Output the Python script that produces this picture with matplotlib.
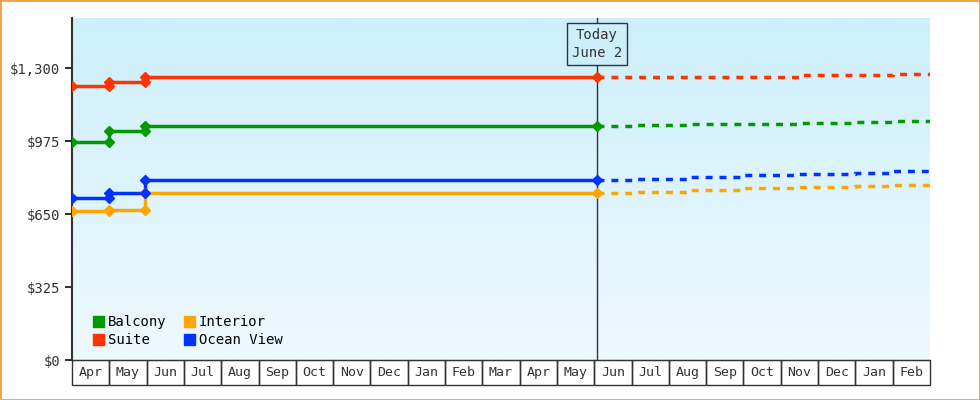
import numpy as np
import matplotlib.pyplot as plt
from matplotlib.patches import Rectangle, Patch

months = ["Apr", "May", "Jun", "Jul", "Aug", "Sep", "Oct", "Nov", "Dec", "Jan", "Feb",
          "Mar", "Apr", "May", "Jun", "Jul", "Aug", "Sep", "Oct", "Nov", "Dec", "Jan", "Feb"]
today_x = 14.07

# historical change points (x in months since first Apr)
hist_x = [0.0, 1.0, 1.95]
suite_hist = [1220, 1238, 1260]
balcony_hist = [970, 1020, 1042]
ocean_hist = [721, 743, 801]
interior_hist = [663, 668, 743]

# forecast (steps)
fc_x = [today_x, 15.0, 16.5, 18.0, 19.5, 21.0, 22.0, 23.0]
suite_fc = [1260, 1260, 1262, 1262, 1267, 1267, 1273, 1273]
balcony_fc = [1042, 1047, 1049, 1052, 1055, 1060, 1064, 1064]
ocean_fc = [801, 805, 815, 822, 828, 833, 841, 841]
interior_fc = [743, 746, 757, 764, 770, 773, 779, 779]

series = [("Balcony", "#009900", balcony_hist, balcony_fc),
          ("Suite", "#ff3300", suite_hist, suite_fc),
          ("Interior", "#ffa500", interior_hist, interior_fc),
          ("Ocean View", "#0033ff", ocean_hist, ocean_fc)]

plt.rcParams['font.family'] = ['DejaVu Sans Mono']
fig = plt.figure(figsize=(9.8, 4.0), dpi=100)
fig.patches.append(Rectangle((0, 0), 1, 1, transform=fig.transFigure, fill=False,
                             edgecolor="#f0a050", lw=2))
ax = fig.add_axes([72 / 980, 40 / 400, 858 / 980, 342 / 400])
ax.set_xlim(0, 23)
ax.set_ylim(0, 1523)

grad = np.linspace(0, 1, 256).reshape(-1, 1)
ax.imshow(grad, extent=[0, 23, 0, 1523], aspect="auto", origin="lower",
          cmap=plt.matplotlib.colors.LinearSegmentedColormap.from_list("g", ["#eef9fe", "#cdeffc"]),
          zorder=0)

for name, c, h, f in series:
    xs, ys = [], []
    for i, (x, y) in enumerate(zip(hist_x, h)):
        if i > 0:
            xs.append(x); ys.append(h[i - 1])
        xs.append(x); ys.append(y)
    xs.append(today_x); ys.append(h[-1])
    ax.plot(xs, ys, color=c, lw=2.5, zorder=3)
    ax.plot(xs, ys, "D", color=c, ms=5, zorder=4)
    ax.plot(f, f, alpha=0)
    ax.plot(f, [v for v in f] and f, alpha=0)
    ax.step(fc_x, f, where="post", color=c, lw=2.5, ls=(0, (2, 2)), zorder=3)

ax.axvline(today_x, color="#333333", lw=1, zorder=2)
ax.text(today_x, 1480, "Today\nJune 2", ha="center", va="top", fontsize=10, color="#333333",
        linespacing=1.4, bbox=dict(boxstyle="square,pad=0.35", fc="#cdeffc", ec="#333333"),
        zorder=5)

ax.set_yticks([0, 325, 650, 975, 1300])
ax.set_yticklabels(["$0", "$325", "$650", "$975", "$1,300"], fontsize=10, color="#333333")
ax.set_xticks([])
for s in ["top", "right"]:
    ax.spines[s].set_visible(False)
ax.spines["left"].set_color("#333333")
ax.spines["left"].set_linewidth(1.5)
ax.spines["bottom"].set_color("#333333")
ax.tick_params(axis="y", length=5, width=1.5, color="#333333")

for i, m in enumerate(months):
    ax.add_patch(Rectangle((i, -0.073), 1, 0.073, transform=ax.get_xaxis_transform(),
                           fill=False, ec="#333333", lw=1, clip_on=False))
    ax.text(i + 0.5, -0.037, m, transform=ax.get_xaxis_transform(), ha="center",
            va="center", fontsize=9.5, color="#333333")

handles = [Patch(color=c, label=n) for n, c, _, _ in series]
ax.legend(handles=handles, ncol=2, loc="lower left", bbox_to_anchor=(0.01, 0.0),
          frameon=False, fontsize=10, handlelength=0.8, handleheight=0.8,
          handletextpad=0.3, columnspacing=1.2, labelspacing=0.3)

fig.savefig("out.png")
